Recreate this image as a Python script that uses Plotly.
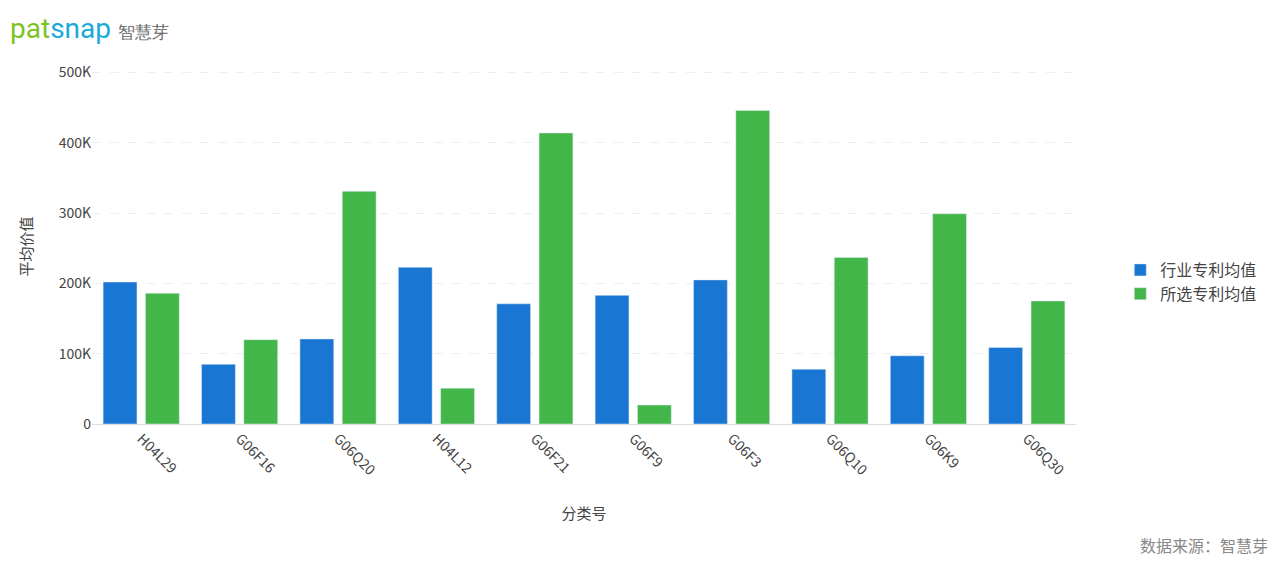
import plotly.graph_objects as go

categories = ["H04L29","G06F16","G06Q20","H04L12","G06F21","G06F9","G06F3","G06Q10","G06K9","G06Q30"]
industry = [202000,85000,121000,223000,171000,183000,205000,78000,97000,109000]
selected = [186000,120000,331000,51000,414000,27000,446000,237000,299000,175000]

fig = go.Figure()
fig.add_bar(x=categories, y=industry, name="行业专利均值", marker_color="#1976D2")
fig.add_bar(x=categories, y=selected, name="所选专利均值", marker_color="#43B649")
fig.update_layout(
    width=1280, height=567, plot_bgcolor="white", paper_bgcolor="white",
    font=dict(family="Noto Sans CJK SC, Roboto", color="#444", size=14),
    margin=dict(l=92, r=204, t=69, b=143, autoexpand=False),
    barmode="group", bargap=0.14, bargroupgap=0.2,
    legend=dict(x=1.045, y=0.40, yanchor="middle", font=dict(size=16), itemwidth=30),
    xaxis=dict(title=dict(text="分类号", font=dict(size=15), standoff=30), tickangle=45,
               showline=True, linecolor="#ddd", ticks="", tickfont=dict(size=14), automargin=False),
    yaxis=dict(title=dict(text="平均价值", font=dict(size=15), standoff=22), range=[0,505000],
               gridcolor="#eee", griddash="dash", zeroline=False,
               tickfont=dict(size=14), automargin=False),
)
fig.update_yaxes(tickvals=[0,100000,200000,300000,400000,500000],
                 ticktext=["0","100K","200K","300K","400K","500K"])
fig.add_annotation(xref="paper", yref="paper", x=-0.085, y=1.115, xanchor="left", yanchor="middle",
    text="<span style='color:#7DC21E'>pat</span><span style='color:#1BA9D9'>snap</span> <span style='font-size:17px;color:#666'>智慧芽</span>",
    showarrow=False, font=dict(size=28, family="Roboto"))
fig.add_annotation(xref="paper", yref="paper", x=1.197, y=-0.34, xanchor="right", yanchor="middle",
    text="数据来源：智慧芽", showarrow=False, font=dict(size=16, color="#888"))
fig.write_html("out.html", post_script="document.body.style.margin='0';",
               config={"displayModeBar": False})
